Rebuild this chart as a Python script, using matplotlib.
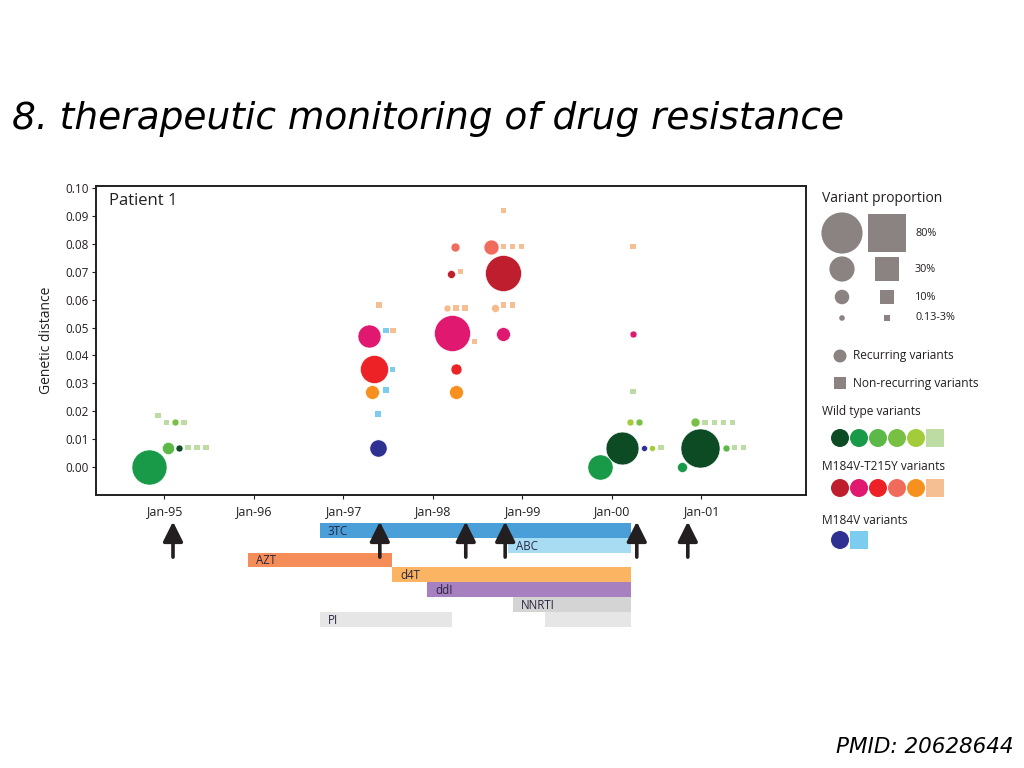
import numpy as np
import matplotlib.pyplot as plt
from matplotlib.transforms import ScaledTranslation

# sampled variants: date (decimal year), genetic distance, proportion (%), type, recurring?
dates = [1994.83, 1995.04, 1995.17, 1995.27, 1995.37, 1995.47, 1995.03, 1995.12, 1995.22, 1994.93,
         1997.29, 1997.34, 1997.32, 1997.39, 1997.48, 1997.55, 1997.48, 1997.39, 1997.56, 1997.40,
         1998.22, 1998.16, 1998.26, 1998.36, 1998.47, 1998.26, 1998.26, 1998.25, 1998.21, 1998.31,
         1998.79, 1998.65, 1998.79, 1998.89, 1998.99, 1998.79, 1998.70, 1998.79, 1998.89, 1998.79,
         1999.87, 2000.12, 2000.36, 2000.45, 2000.55, 2000.20, 2000.30, 2000.24, 2000.24, 2000.24,
         2000.99, 2000.79, 2000.93, 2001.04, 2001.15, 2001.25, 2001.35, 2001.28, 2001.37, 2001.47]
distance = [0.000, 0.007, 0.007, 0.007, 0.007, 0.007, 0.016, 0.016, 0.016, 0.0185,
            0.047, 0.035, 0.027, 0.007, 0.049, 0.035, 0.0276, 0.019, 0.049, 0.058,
            0.048, 0.057, 0.057, 0.057, 0.045, 0.035, 0.027, 0.079, 0.069, 0.070,
            0.0695, 0.079, 0.079, 0.079, 0.079, 0.092, 0.057, 0.058, 0.058, 0.0477,
            0.000, 0.007, 0.007, 0.007, 0.007, 0.016, 0.016, 0.027, 0.0477, 0.079,
            0.007, 0.000, 0.016, 0.016, 0.016, 0.016, 0.016, 0.007, 0.007, 0.007]
proportion = [58, 7, 2.3, 1.7, 1.7, 1.7, 1.7, 2.3, 1.7, 1.7,
              25, 37, 9, 14, 1.7, 1.7, 1.7, 1.7, 1.7, 1.7,
              61, 2.3, 1.7, 1.7, 1.7, 5.7, 9, 3.8, 3, 1.7,
              61, 10.6, 1.7, 1.7, 1.7, 1.7, 3, 1.7, 1.7, 9,
              30, 51, 1.7, 1.7, 1.7, 2.3, 2.3, 1.7, 2.3, 1.7,
              72, 4.7, 3.8, 1.7, 1.7, 1.7, 1.7, 2.3, 1.7, 1.7]
vtype = ['wt2', 'wt3', 'wt1', 'wtn', 'wtn', 'wtn', 'wtn', 'wt4', 'wtn', 'wtn',
         'mt2', 'mt3', 'mt5', 'm1', 'mn', 'mn', 'mn', 'mn', 'mtn', 'mtn',
         'mt2', 'mt6', 'mtn', 'mtn', 'mtn', 'mt3', 'mt5', 'mt4', 'mt1', 'mtn',
         'mt1', 'mt4', 'mtn', 'mtn', 'mtn', 'mtn', 'mt6', 'mtn', 'mtn', 'mt2',
         'wt2', 'wt1', 'm1', 'wt5', 'wtn', 'wt5', 'wt4', 'wtn', 'mt2', 'mtn',
         'wt1', 'wt2', 'wt4', 'wtn', 'wtn', 'wtn', 'wtn', 'wt3', 'wtn', 'wtn']
recurring = [1, 1, 1, 0, 0, 0, 0, 1, 0, 0,
             1, 1, 1, 1, 0, 0, 0, 0, 0, 0,
             1, 1, 0, 0, 0, 1, 1, 1, 1, 0,
             1, 1, 0, 0, 0, 0, 1, 0, 0, 1,
             1, 1, 1, 1, 0, 1, 1, 0, 1, 0,
             1, 1, 1, 0, 0, 0, 0, 1, 0, 0]

years = [1995, 1996, 1997, 1998, 1999, 2000, 2001]
year_labels = ['Jan-95', 'Jan-96', 'Jan-97', 'Jan-98', 'Jan-99', 'Jan-00', 'Jan-01']

# treatment periods
drugs = ['3TC', 'ABC', 'AZT', 'd4T', 'ddI', 'NNRTI', 'PI', '']
drug_row = [0, 1, 2, 3, 4, 5, 6, 6]
drug_start = [1996.74, 1998.84, 1995.94, 1997.55, 1997.94, 1998.90, 1996.74, 1999.26]
drug_end = [2000.22, 2000.22, 1997.55, 2000.22, 2000.22, 2000.22, 1998.22, 2000.22]
sample_dates = [1995.10, 1997.41, 1998.37, 1998.81, 2000.28, 2000.85]

legend_props = [80, 30, 10, 1.5]
legend_labels = ['80%', '30%', '10%', '0.13-3%']

palette = {
    'wt1': '#0d4b25', 'wt2': '#199a49', 'wt3': '#5cb947', 'wt4': '#78c044', 'wt5': '#a2cc3a', 'wtn': '#bddca4',
    'mt1': '#be1e2d', 'mt2': '#e0186f', 'mt3': '#ec2227', 'mt4': '#f16b5d', 'mt5': '#f7901f', 'mt6': '#f6b98a',
    'mtn': '#f6bf93', 'm1': '#2e3192', 'mn': '#7cccf0',
}
drug_colors = ['#4a9fd9', '#a8dcf3', '#f58d58', '#fbb462', '#a680bf', '#d4d4d4', '#e6e6e6', '#e6e6e6']
legend_gray = '#8b8282'
txt = '#231f20'


def marker_area(p, square=False):
    # diameter in px ~ 4.6*sqrt(p); 1 px = 0.72 pt at dpi 100
    d = 4.6 * np.sqrt(np.asarray(p, dtype=float)) * 0.72
    if square:
        d = d * 0.92
    return d ** 2


fig = plt.figure(figsize=(10.24, 7.68), dpi=100)
plt.rcParams['font.family'] = ['Open Sans', 'DejaVu Sans']

fig.text(12 / 1024, 1 - 129 / 768, '8. therapeutic monitoring of drug resistance',
         fontsize=27, fontstyle='italic', family='DejaVu Sans', color='black', va='baseline')
fig.text(1014 / 1024, 1 - 753 / 768, 'PMID: 20628644', fontsize=15.5, fontstyle='italic',
         family='DejaVu Sans', ha='right', va='baseline', color='black')

# main scatter
ax = fig.add_axes([96 / 1024, 1 - 495 / 768, 710 / 1024, 309 / 768])
xlim = (1994.24, 2002.17)
ax.set_xlim(*xlim)
ax.set_ylim(-0.010, 0.1007)

order = np.argsort(proportion)[::-1]
for i in order:
    sq = recurring[i] == 0
    ax.scatter(dates[i], distance[i], s=marker_area(proportion[i], sq), marker='s' if sq else 'o',
               color=palette[vtype[i]], edgecolors='none' if sq else 'white', linewidths=0.4, zorder=3)

ax.set_yticks(np.arange(0, 0.101, 0.01))
ax.set_yticklabels([f'{v:.2f}' for v in np.arange(0, 0.101, 0.01)], fontsize=8.5, color=txt)
ax.set_xticks(years)
ax.set_xticklabels(year_labels, fontsize=9, color=txt)
offset = ScaledTranslation(0.18, 0, fig.dpi_scale_trans)
for lab in ax.get_xticklabels():
    lab.set_transform(lab.get_transform() + offset)
ax.tick_params(length=3, width=0.8, pad=4, colors=txt)
ax.tick_params(axis='y', pad=2)
ax.set_ylabel('Genetic distance', fontsize=10, color=txt, labelpad=8)
for sp in ax.spines.values():
    sp.set_linewidth(1.4)
    sp.set_color(txt)
ax.text(0.018, 0.952, 'Patient 1', transform=ax.transAxes, fontsize=12, color=txt, va='center')

# treatment timeline
tl = fig.add_axes([96 / 1024, 1 - 640 / 768, 710 / 1024, 140 / 768])
tl.set_xlim(*xlim)
tl.set_ylim(7.4, -2.06)
tl.axis('off')
for name, r, a, b, c in zip(drugs, drug_row, drug_start, drug_end, drug_colors):
    tl.barh(r, b - a, left=a, height=1.0, color=c, zorder=1)
    if name:
        tl.text(a + 0.09, r + 0.05, name, va='center', fontsize=8.3, color='#2b2540', zorder=2)
for d in sample_dates:
    tl.annotate('', xy=(d, -0.6), xytext=(d, 1.8),
                arrowprops=dict(arrowstyle='-|>', mutation_scale=30, lw=2.6, color=txt,
                                shrinkA=0, shrinkB=0), zorder=5)

# legend
lg = fig.add_axes([810 / 1024, 1 - 560 / 768, 214 / 1024, 380 / 768])
lg.set_xlim(810, 1024)
lg.set_ylim(560, 180)
lg.axis('off')
lg.text(822, 198, 'Variant proportion', fontsize=10, color=txt, va='center')
for p, lab, yy in zip(legend_props, legend_labels, [233, 269, 297, 318]):
    lg.scatter(842, yy, s=marker_area(p), color=legend_gray, marker='o', edgecolors='none')
    lg.scatter(887, yy, s=marker_area(p, True), color=legend_gray, marker='s', edgecolors='none')
    lg.text(915, yy, lab, fontsize=7.8, color=txt, va='center')
lg.scatter(840, 356, s=marker_area(8), color=legend_gray, marker='o', edgecolors='none')
lg.text(853, 356, 'Recurring variants', fontsize=8.6, color=txt, va='center')
lg.scatter(840, 383, s=marker_area(8, True), color=legend_gray, marker='s', edgecolors='none')
lg.text(853, 383, 'Non-recurring variants', fontsize=8.6, color=txt, va='center')

groups = [('Wild type variants', 411, 438, ['wt1', 'wt2', 'wt3', 'wt4', 'wt5'], 'wtn'),
          ('M184V-T215Y variants', 466, 488, ['mt1', 'mt2', 'mt3', 'mt4', 'mt5'], 'mtn'),
          ('M184V variants', 520, 540, ['m1'], 'mn')]
sw = (18 * 0.72) ** 2
for title, ty, sy, circles, square in groups:
    lg.text(822, ty, title, fontsize=8.6, color=txt, va='center')
    for k, key in enumerate(circles):
        lg.scatter(840 + 19 * k, sy, s=sw, color=palette[key], marker='o', edgecolors='none')
    lg.scatter(840 + 19 * len(circles), sy, s=sw * 0.95, color=palette[square], marker='s',
               edgecolors='none')

fig.savefig('out.png', dpi=100)
